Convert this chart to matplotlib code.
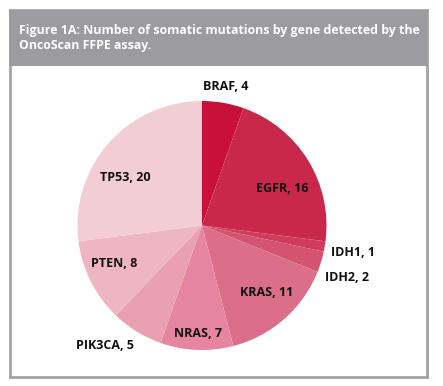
import numpy as np
import matplotlib
matplotlib.use("Agg")
import matplotlib.pyplot as plt
from matplotlib.patches import Rectangle

genes = ["BRAF", "EGFR", "IDH1", "IDH2", "KRAS", "NRAS", "PIK3CA", "PTEN", "TP53"]
counts = [4, 16, 1, 2, 11, 7, 5, 8, 20]
colors = ["#C8103A", "#C9284B", "#D03C5E", "#D45370", "#DB6E88", "#E585A1",
          "#E9A1B1", "#EDB6C2", "#F3CDD5"]
# label placement (radius factor, angle offset in degrees)
label_r = [1.13, 0.71, 1.23, 1.24, 0.75, 0.87, 1.24, 0.77, 0.73]
label_dth = [0, -7, -0.6, -2.6, 2.6, 0.4, -7.2, -3.7, 9.2]

title = "Figure 1A: Number of somatic mutations by gene detected by the\nOncoScan FFPE assay."

W, H = 443, 386
fig = plt.figure(figsize=(W / 100, H / 100), dpi=100)
fig.patch.set_facecolor("white")

def fx(x):
    return x / W

def fy(y):
    return 1 - y / H

# frame
border = "#A3A3A5"
fig.patches.append(Rectangle((fx(10), fy(377)), fx(417), (367) / H,
                             transform=fig.transFigure, facecolor="white",
                             edgecolor=border, linewidth=2, zorder=-2))
fig.patches.append(Rectangle((fx(9), fy(66)), fx(419), 56 / H,
                             transform=fig.transFigure, facecolor="#9C9CA0",
                             edgecolor="none", zorder=-1))
fig.text(fx(19), fy(38), title, color="white", fontsize=8.9, fontweight="bold",
         family="Open Sans", va="center", ha="left", linespacing=1.25)

# pie
cx, cy, R = 202, 225.5, 124.5
ax = fig.add_axes([fx(cx - R), fy(cy + R), 2 * R / W, 2 * R / H])
ax.set_zorder(5)
wedges, _ = ax.pie(counts, colors=colors, startangle=90, counterclock=False,
                   radius=1, wedgeprops=dict(linewidth=0))
ax.set_xlim(-1, 1)
ax.set_ylim(-1, 1)
ax.set_aspect("equal")
ax.axis("off")

for w, g, c, r, dth in zip(wedges, genes, counts, label_r, label_dth):
    mid = np.deg2rad((w.theta1 + w.theta2) / 2 + dth)
    ax.text(r * np.cos(mid), r * np.sin(mid), f"{g}, {c}", ha="center",
            va="center", fontsize=9.0, fontweight="bold", family="Open Sans",
            color="#111111", clip_on=False)

fig.savefig("out.png", dpi=100, facecolor="white")
